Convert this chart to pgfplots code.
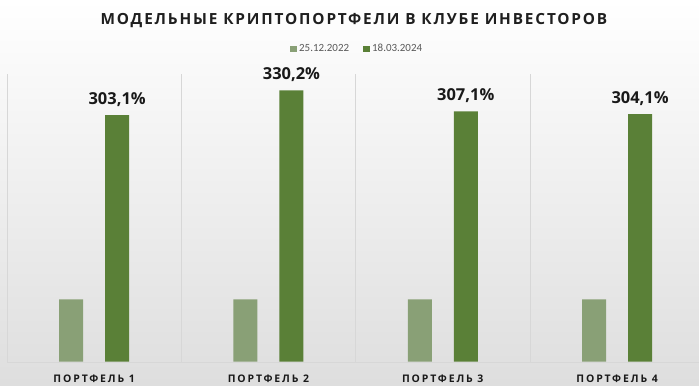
\documentclass[border=0pt]{standalone}
\usepackage{fontspec}
\setmainfont{Carlito}
\newfontfamily\titlefont[LetterSpace=12]{Open Sans}
\newfontfamily\catfont[LetterSpace=18]{Open Sans}
\newfontfamily\valfont{Open Sans}
\usepackage{pgfplots}
\pgfplotsset{compat=1.18}
\definecolor{lightbar}{RGB}{137,160,118}
\definecolor{darkbar}{RGB}{90,128,55}
\definecolor{sepline}{RGB}{215,215,215}
\begin{document}
\begin{tikzpicture}
\shade[top color=white, bottom color=black!13] (-7bp,-24.3bp) rectangle (692bp,361.7bp);
\begin{axis}[
  scale only axis, width=692bp, height=287.7bp,
  anchor=south west, at={(0,0)},
  xmin=-0.5, xmax=3.47, ymin=31.3, ymax=348.3,
  axis x line*=bottom, axis y line=none,
  x axis line style={sepline, -},
  ytick=\empty,
  xtick={0,1,2,3},
  xticklabels={ПОРТФЕЛЬ 1, ПОРТФЕЛЬ 2, ПОРТФЕЛЬ 3, ПОРТФЕЛЬ 4},
  major tick length=0pt,
  xticklabel style={anchor=base, yshift=-20.3bp, font=\catfont\bfseries\fontsize{10.5}{12}\selectfont, text=black!90},
  extra x ticks={-0.5,0.5,1.5,2.5},
  extra x tick labels={},
  extra x tick style={grid=major, major grid style={sepline, line width=0.7bp}},
  ybar=22bp, bar width=24bp,
  legend columns=2,
  legend style={at={(0.506,1.087)}, anchor=center, draw=none, fill=none,
    font=\fontsize{11}{13}\selectfont, text=black!65,
    /tikz/every even column/.append style={column sep=12bp},
    inner sep=0pt},
]
\addplot[fill=lightbar, draw=none,
  legend image code/.code={\fill[lightbar] (0bp,-3.3bp) rectangle (7bp,3.3bp);}]
  coordinates {(0,100) (1,100) (2,100) (3,100)};
\addlegendentry{25.12.2022}
\addplot[fill=darkbar, draw=none,
  legend image code/.code={\fill[darkbar] (0bp,-3.3bp) rectangle (7bp,3.3bp);},
  nodes near coords={\pgfmathprintnumber[fixed,fixed zerofill,precision=1,use comma,assume math mode=true]{\pgfplotspointmeta}\%},
  nodes near coords style={anchor=base, yshift=10.5bp, inner sep=0pt, text=black!90, font=\valfont\bfseries\fontsize{16.5}{18}\selectfont}]
  coordinates {(0,303.1) (1,330.2) (2,307.1) (3,304.1)};
\addlegendentry{18.03.2024}
\end{axis}
\node[anchor=base, inner sep=0pt, text=black!88, font=\titlefont\bfseries\fontsize{15.4}{18}\selectfont] at (347bp,336.7bp) {МОДЕЛЬНЫЕ КРИПТОПОРТФЕЛИ В КЛУБЕ ИНВЕСТОРОВ};
\pgfresetboundingbox
\useasboundingbox (-7bp,-24.3bp) rectangle (692bp,361.7bp);
\end{tikzpicture}
\end{document}
